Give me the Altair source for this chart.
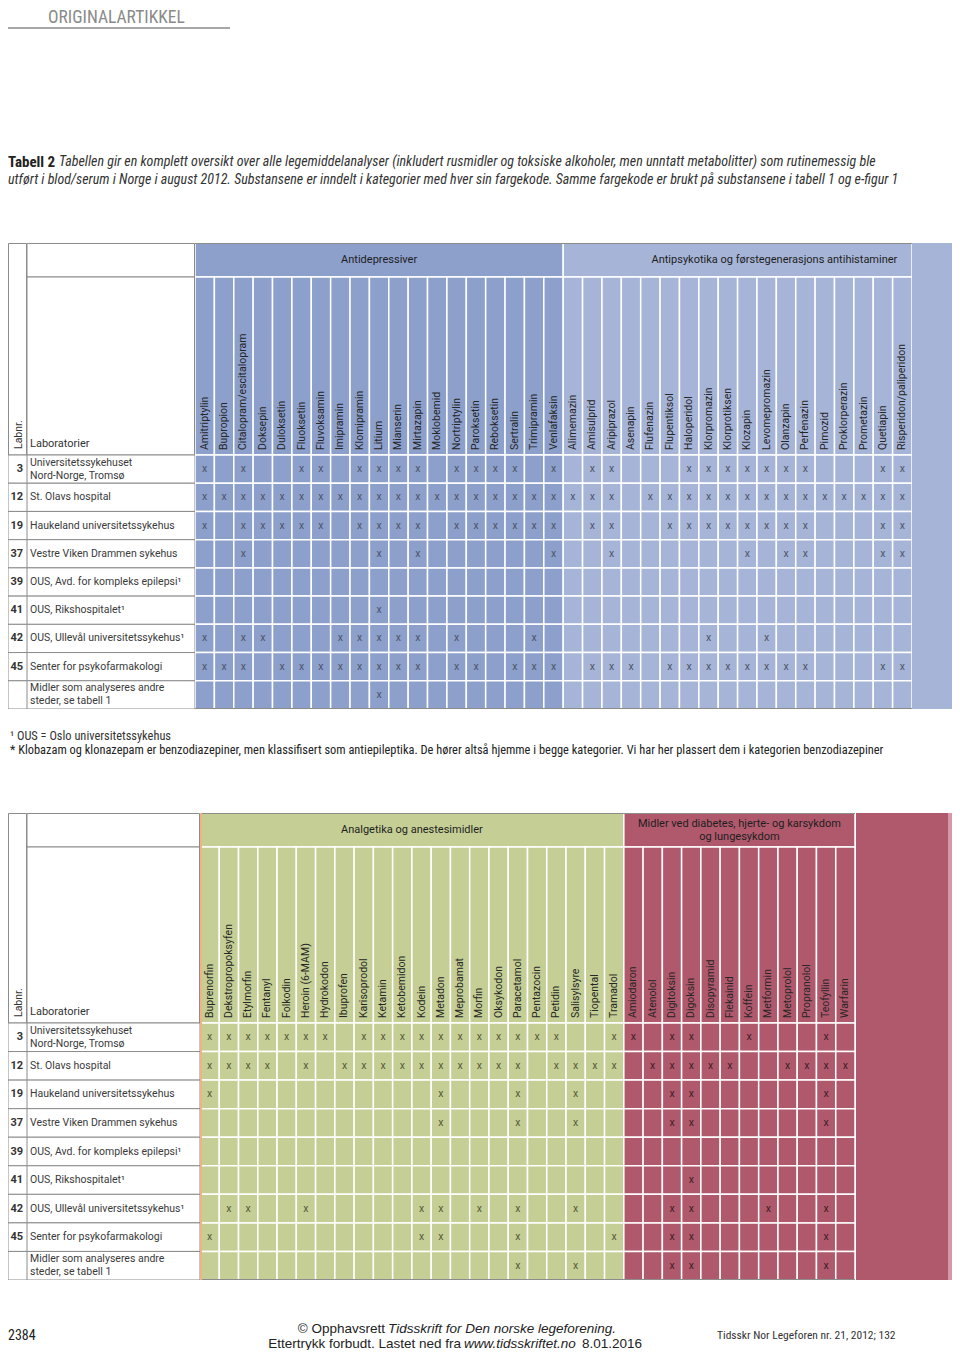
import altair as alt
import pandas as pd

# ---------------- data ----------------
antidepressiver = ["Amitriptylin", "Bupropion", "Citalopram/escitalopram", "Doksepin", "Duloksetin",
                   "Fluoksetin", "Fluvoksamin", "Imipramin", "Klomipramin", "Litium", "Mianserin",
                   "Mirtazapin", "Moklobemid", "Nortriptylin", "Paroksetin", "Reboksetin", "Sertralin",
                   "Trimipramin", "Venlafaksin"]
antipsykotika = ["Alimemazin", "Amisulprid", "Aripiprazol", "Asenapin", "Flufenazin", "Flupentiksol",
                 "Haloperidol", "Klorpromazin", "Klorprotiksen", "Klozapin", "Levomepromazin", "Olanzapin",
                 "Perfenazin", "Pimozid", "Proklorperazin", "Prometazin", "Quetiapin", "Risperidon/paliperidon"]
analgetika = ["Buprenorfin", "Dekstropropoksyfen", "Etylmorfin", "Fentanyl", "Folkodin", "Heroin (6-MAM)",
              "Hydrokodon", "Ibuprofen", "Karisoprodol", "Ketamin", "Ketobemidon", "Kodein", "Metadon",
              "Meprobamat", "Morfin", "Oksykodon", "Paracetamol", "Pentazocin", "Petidin", "Salisylsyre",
              "Tiopental", "Tramadol"]
hjerte = ["Amiodaron", "Atenolol", "Digitoksin", "Digoksin", "Disopyramid", "Flekainid", "Koffein",
          "Metformin", "Metoprolol", "Propranolol", "Teofyllin", "Warfarin"]

lab_nr = ["3", "12", "19", "37", "39", "41", "42", "45", ""]
lab_name = ["Universitetssykehuset\nNord-Norge, Tromsø", "St. Olavs hospital", "Haukeland universitetssykehus",
            "Vestre Viken Drammen sykehus", "OUS, Avd. for kompleks epilepsi¹", "OUS, Rikshospitalet¹",
            "OUS, Ullevål universitetssykehus¹", "Senter for psykofarmakologi",
            "Midler som analyseres andre\nsteder, se tabell 1"]

# one string per laboratory, one character per substance ("x" = analysed)
antidep_x = ["x.x..xx.xxxx.xxxx.x", "xxxxxxxxxxxxxxxxxxx", "x.xxxxx.xxxx.xxxxxx", "..x......x.x......x",
             "...................", ".........x.........", "x.xx...xxxxx.x...x.", "xxx.xxxxxxxx.xx.xxx",
             ".........x........."]
antipsyk_x = [".xx...xxxxxxx...xx", "xxx.xxxxxxxxxxxxxx", ".xx..xxxxxxxx...xx", "..x......x.xx...xx",
              "..................", "..................", ".......x..x.......", ".xxx.xxxxxxxx...xx",
              ".................."]
analg_x = ["xxxxxxx.xxxxxxxxxxx..x", "xxxx.x.xxxxxxxxxx.xxxx", "x...........x...x..x..",
           "............x...x..x..", "......................", "......................",
           ".xx..x.....xx.x.x..x..", "x..........xx...x....x", "................x..x.."]
hjerte_x = ["x.xx..x...x.", ".xxxxx..xxxx", "..xx......x.", "..xx......x.", "............",
            "...x........", "..xx...x..x.", "..xx......x.", "..xx......x."]

cat_titles_1 = ["Antidepressiver", "Antipsykotika og førstegenerasjons antihistaminer"]
cat_titles_2 = ["Analgetika og anestesimidler", "Midler ved diabetes, hjerte- og karsykdom\nog lungesykdom"]

# ---------------- style ----------------
BLUE_DARK = "#8ca0cb"
BLUE_LIGHT = "#a6b5d7"
GREEN = "#c5cf95"
RED = "#b0596c"
RED_STRIPE = "#d797a6"
GRAY = "#8c8c8c"
FONT = "Roboto"
NARROW = "Liberation Sans Narrow, Roboto Condensed, DejaVu Sans Condensed, Roboto"
ONE = pd.DataFrame({"a": [0]})


def box(x0, x1, y0, y1, fill, stroke=None):
    kw = dict(fill=fill, clip=True)
    if stroke:
        kw.update(stroke=stroke, strokeWidth=1)
    else:
        kw.update(strokeWidth=0)
    return alt.Chart(ONE).mark_rect(**kw).encode(
        x=alt.value(x0), x2=alt.value(x1), y=alt.value(y0), y2=alt.value(y1))


def txt(s, x, y, size, color="#333", font=FONT, align="left", style="normal", weight="normal",
        baseline="middle", angle=0):
    return alt.Chart(pd.DataFrame({"t": [s]})).mark_text(
        align=align, baseline=baseline, font=font, fontSize=size, color=color, angle=angle,
        fontStyle=style, fontWeight=weight, clip=True).encode(x=alt.value(x), y=alt.value(y), text="t:N")


def make_table(cats, nr_w, name_w, grid_w, cat_h, names_h, rows_h, extra, edge=None):
    top = cat_h + names_h
    total = top + rows_h
    N = sum(len(c["drugs"]) for c in cats)
    cat_rows, name_rows, cell_rows = [], [], []
    g = 0
    for c in cats:
        start = g
        for j, d in enumerate(c["drugs"]):
            name_rows.append({"drug": d, "x0": g, "x1": g + 1, "xm": g + 0.5, "fill": c["color"]})
            for k, lab in enumerate(lab_name):
                cell_rows.append({"lab": lab, "x0": g, "x1": g + 1, "xm": g + 0.5, "fill": c["color"],
                                  "flag": c["marks"][k][j], "ink": c["ink"]})
            g += 1
        cat_rows.append({"title": c["title"], "x0": start, "x1": g, "nl": c["title"].count("\n") + 1,
                         "xm": (start + g) / 2 + c.get("shift", 0), "fill": c["color"]})
    cat_df, names_df, cells_df = pd.DataFrame(cat_rows), pd.DataFrame(name_rows), pd.DataFrame(cell_rows)

    xs = alt.Scale(domain=[0, N], nice=False, zero=False)
    X0 = alt.X("x0:Q", scale=xs, axis=None)
    XM = alt.X("xm:Q", scale=xs, axis=None)
    FILL = alt.Color("fill:N", scale=None, legend=None)
    Y = alt.Y("lab:N", scale=alt.Scale(domain=lab_name, range=[top, total], paddingInner=0, paddingOuter=0),
              axis=None)

    # ---- grid of substances ----
    layers = [
        alt.Chart(cat_df).mark_rect(stroke="white", strokeWidth=1.5, clip=True).encode(
            x=X0, x2="x1:Q", y=alt.value(0), y2=alt.value(cat_h), color=FILL),
        alt.Chart(cat_df).transform_filter("datum.nl == 1").mark_text(
            font=FONT, fontSize=11, color="#1e1e1e", clip=True).encode(
            x=XM, y=alt.value(cat_h / 2), text="title:N"),
        alt.Chart(cat_df).transform_filter("datum.nl == 2").mark_text(
            font=FONT, fontSize=11, color="#1e1e1e", lineBreak="\n", lineHeight=13, dy=-6.5, clip=True).encode(
            x=XM, y=alt.value(cat_h / 2), text="title:N"),
        alt.Chart(names_df).mark_rect(stroke="white", strokeWidth=1.5, clip=True).encode(
            x=X0, x2="x1:Q", y=alt.value(cat_h), y2=alt.value(top), color=FILL),
        alt.Chart(names_df).mark_text(angle=270, align="left", baseline="middle", font=FONT,
                                      fontSize=10.5, color="#262626", clip=True).encode(
            x=XM, y=alt.value(top - 5), text="drug:N"),
        alt.Chart(cells_df).mark_rect(stroke="white", strokeWidth=1.5, clip=True).encode(
            x=X0, x2="x1:Q", y=Y, color=FILL),
        alt.Chart(cells_df).transform_filter("datum.flag == 'x'").mark_text(
            font=FONT, fontSize=10.5, clip=True).encode(
            x=XM, y=Y, text=alt.value("x"), color=alt.Color("ink:N", scale=None)),
        alt.Chart(ONE).mark_rule(color=GRAY, strokeWidth=1, clip=True).encode(
            x=alt.value(0), x2=alt.value(grid_w), y=alt.value(0.5)),
        alt.Chart(ONE).mark_rule(color=GRAY, strokeWidth=1, clip=True).encode(
            x=alt.value(0), x2=alt.value(grid_w), y=alt.value(total - 0.5)),
    ]
    if edge:
        layers.append(alt.Chart(ONE).mark_rule(color=edge, strokeWidth=2, clip=True).encode(
            x=alt.value(1), y=alt.value(0), y2=alt.value(total)))
    grid = alt.layer(*layers).properties(width=grid_w, height=total)

    # ---- laboratory columns ----
    left_df = pd.DataFrame({"lab": lab_name, "nr": lab_nr, "c": "a",
                            "nl": [s.count("\n") + 1 for s in lab_name]})
    XB = alt.X("c:N", axis=None, scale=alt.Scale(paddingInner=0, paddingOuter=0))
    row_box = alt.Chart(left_df).mark_rect(fill="white", stroke=GRAY, strokeWidth=1, clip=True).encode(x=XB, y=Y)

    nr_col = alt.layer(
        box(0.5, nr_w - 0.5, 0.5, top, "white", GRAY),
        txt("Labnr.", nr_w / 2 + 1, top - 6, 10.5, "#333", angle=270),
        row_box,
        alt.Chart(left_df).mark_text(align="right", font=FONT, fontSize=11, fontWeight="bold",
                                     color="#333", clip=True).encode(
            x=alt.value(nr_w - 4), y=Y, text="nr:N"),
    ).properties(width=nr_w, height=total)

    name_col = alt.layer(
        box(0, name_w - 0.5, 0.5, cat_h, "white", GRAY),
        box(0, name_w - 0.5, cat_h, top, "white", GRAY),
        txt("Laboratorier", 3, top - 11, 11, "#333"),
        row_box,
        alt.Chart(left_df).transform_filter("datum.nl == 1").mark_text(
            align="left", font=FONT, fontSize=10.5, color="#3a3a3a", clip=True).encode(
            x=alt.value(3), y=Y, text="lab:N"),
        alt.Chart(left_df).transform_filter("datum.nl == 2").mark_text(
            align="left", font=FONT, fontSize=10.5, color="#3a3a3a", lineBreak="\n", lineHeight=13,
            dy=-6.5, clip=True).encode(x=alt.value(3), y=Y, text="lab:N"),
    ).properties(width=name_w, height=total)

    extras = [box(0, w, 0, total, col).properties(width=w, height=total) for (w, col) in extra]
    return alt.hconcat(nr_col, name_col, grid, *extras, spacing=0, bounds="flush").resolve_scale(
        x="independent", y="independent")


table1 = make_table(
    [dict(title=cat_titles_1[0], drugs=antidepressiver, marks=antidep_x, color=BLUE_DARK, ink="#4d5466"),
     dict(title=cat_titles_1[1], drugs=antipsykotika, marks=antipsyk_x, color=BLUE_LIGHT, ink="#4d5466",
          shift=1.9)],
    nr_w=19, name_w=168, grid_w=717, cat_h=34, names_h=178, rows_h=254,
    extra=[(40, BLUE_LIGHT)])

table2 = make_table(
    [dict(title=cat_titles_2[0], drugs=analgetika, marks=analg_x, color=GREEN, ink="#55593a"),
     dict(title=cat_titles_2[1], drugs=hjerte, marks=hjerte_x, color=RED, ink="#3b2026")],
    nr_w=19, name_w=173, grid_w=655, cat_h=34, names_h=176, rows_h=257,
    extra=[(1, "white"), (92, RED), (4, RED_STRIPE)], edge="#f2b283")

caption1 = ("Tabellen gir en komplett oversikt over alle legemiddelanalyser (inkludert rusmidler og toksiske "
            "alkoholer, men unntatt metabolitter) som rutinemessig ble")
caption2 = ("utført i blod/serum i Norge i august 2012. Substansene er inndelt i kategorier med hver sin "
            "fargekode. Samme fargekode er brukt  på substansene i tabell 1 og e-figur 1")

head = alt.layer(
    txt("ORIGINALARTIKKEL", 40, 15, 17.5, "#8a8a8a", NARROW, baseline="alphabetic"),
    alt.Chart(ONE).mark_rule(color="#8a8a8a", strokeWidth=1.5, clip=True).encode(
        x=alt.value(0), x2=alt.value(222), y=alt.value(20)),
    txt("Tabell 2", 0, 154, 15, "#222", NARROW, weight="bold"),
    txt(caption1, 51, 154, 14, "#333", NARROW, style="italic"),
    txt(caption2, 0, 172, 14, "#333", NARROW, style="italic"),
).properties(width=944, height=235)

foot1 = alt.layer(
    txt("¹ OUS = Oslo universitetssykehus", 2, 27, 12.4, "#333", NARROW),
    txt("* Klobazam og klonazepam er benzodiazepiner, men klassifisert som antiepileptika. De hører altså "
        "hjemme i begge kategorier. Vi har her plassert dem i kategorien benzodiazepiner", 2, 41, 12.4, "#222", NARROW),
).properties(width=944, height=104)

SANS = "Liberation Sans, Arial"
footer = alt.layer(
    txt("2384", 0, 56, 14, "#222", NARROW),
    txt("© Opphavsrett", 377, 49, 13.5, "#222", SANS, align="right"),
    txt("Tidsskrift for Den norske legeforening.", 380, 49, 13.5, "#222", SANS, style="italic"),
    txt("Ettertrykk forbudt. Lastet ned fra", 453, 64, 13.5, "#222", SANS, align="right"),
    txt("www.tidsskriftet.no", 456, 64, 13.5, "#222", SANS, style="italic"),
    txt("8.01.2016", 574, 64, 13.5, "#222", SANS),
    txt("Tidsskr Nor Legeforen nr. 21, 2012; 132", 709, 56, 11.5, "#333", NARROW),
).properties(width=944, height=70)

chart = alt.vconcat(head, table1, foot1, table2, footer, spacing=0).resolve_scale(
    x="independent", y="independent").properties(
    padding={"left": 0, "top": 0, "right": 0, "bottom": 0}, background="white").configure_view(
    stroke="transparent", strokeWidth=0)

chart.save("out.html", embed_options={"renderer": "svg", "actions": False})
